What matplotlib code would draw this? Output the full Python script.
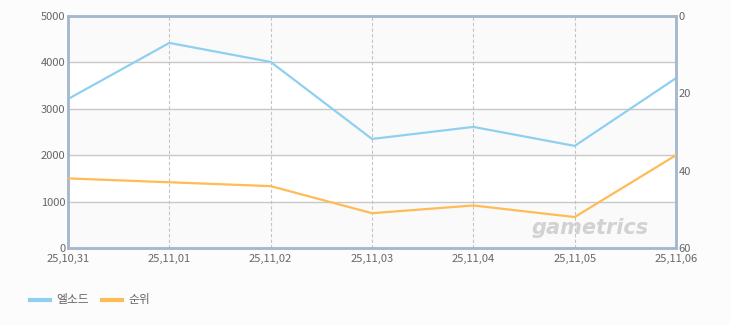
import matplotlib.pyplot as plt
import numpy as np

plt.rcParams['font.family'] = ['Noto Sans CJK KR', 'DejaVu Sans']

# data
dates = ['25,10,31', '25,11,01', '25,11,02', '25,11,03', '25,11,04', '25,11,05', '25,11,06']
elsword = [3210, 4420, 4010, 2350, 2610, 2200, 3660]
rank = [42, 43, 44, 51, 49, 52, 36]

left_ticks = [0, 1000, 2000, 3000, 4000, 5000]
right_ticks = [0, 20, 40, 60]

blue = '#8fd0f0'
orange = '#ffbb55'
spine_col = '#a6b8ce'
txt_col = '#666666'
bg = '#fcfcfc'

fig = plt.figure(figsize=(7.3, 3.25), dpi=100, facecolor=bg)
ax = fig.add_axes([68 / 730, 1 - 248 / 325, 608 / 730, 232 / 325])
ax.set_facecolor('white')

x = np.arange(len(dates))
ax.set_xlim(0, len(dates) - 1)
ax.set_ylim(0, 5000)

# alternating bands
for i, lo in enumerate(left_ticks[:-1]):
    if i % 2 == 0:
        ax.axhspan(lo, lo + 1000, color='#fafafa', zorder=0, lw=0)

for yv in left_ticks[1:-1]:
    ax.axhline(yv, color='#c8c8c8', lw=1, zorder=1)
for xv in x[1:-1]:
    ax.axvline(xv, color='#c4c4c4', lw=0.8, ls=(0, (3, 2)), zorder=1)

ax.plot(x, elsword, color=blue, lw=1.6, zorder=3, solid_joinstyle='miter')

ax2 = ax.twinx()
ax2.set_ylim(60, 0)
ax2.plot(x, rank, color=orange, lw=1.6, zorder=3, solid_joinstyle='miter')

ax.set_xticks(x)
ax.set_xticklabels(dates)
ax.set_yticks(left_ticks)
ax2.set_yticks(right_ticks)

for a in (ax, ax2):
    a.tick_params(length=0, colors=txt_col, labelsize=8)
    for s in a.spines.values():
        s.set_color(spine_col)
        s.set_linewidth(1.8)
ax.tick_params(axis='x', pad=4)
ax.tick_params(axis='y', pad=2)
ax2.tick_params(axis='y', pad=2)

# watermark
ax.text(0.955, 0.085, 'gametrics', transform=ax.transAxes, ha='right', va='center',
        fontsize=15, fontweight='bold', fontstyle='italic', color='#d2d2d2',
        family='DejaVu Sans', zorder=2)

# legend
fig.lines.append(plt.Line2D([30 / 730, 50 / 730], [1 - 300 / 325] * 2, color=blue, lw=3,
                            transform=fig.transFigure))
fig.text(56 / 730, 1 - 299 / 325, '엘소드', color=txt_col, fontsize=8.5, va='center')
fig.lines.append(plt.Line2D([102 / 730, 122 / 730], [1 - 300 / 325] * 2, color=orange, lw=3,
                            transform=fig.transFigure))
fig.text(128 / 730, 1 - 299 / 325, '순위', color=txt_col, fontsize=8.5, va='center')

fig.savefig('out.png', dpi=100, facecolor=bg)
